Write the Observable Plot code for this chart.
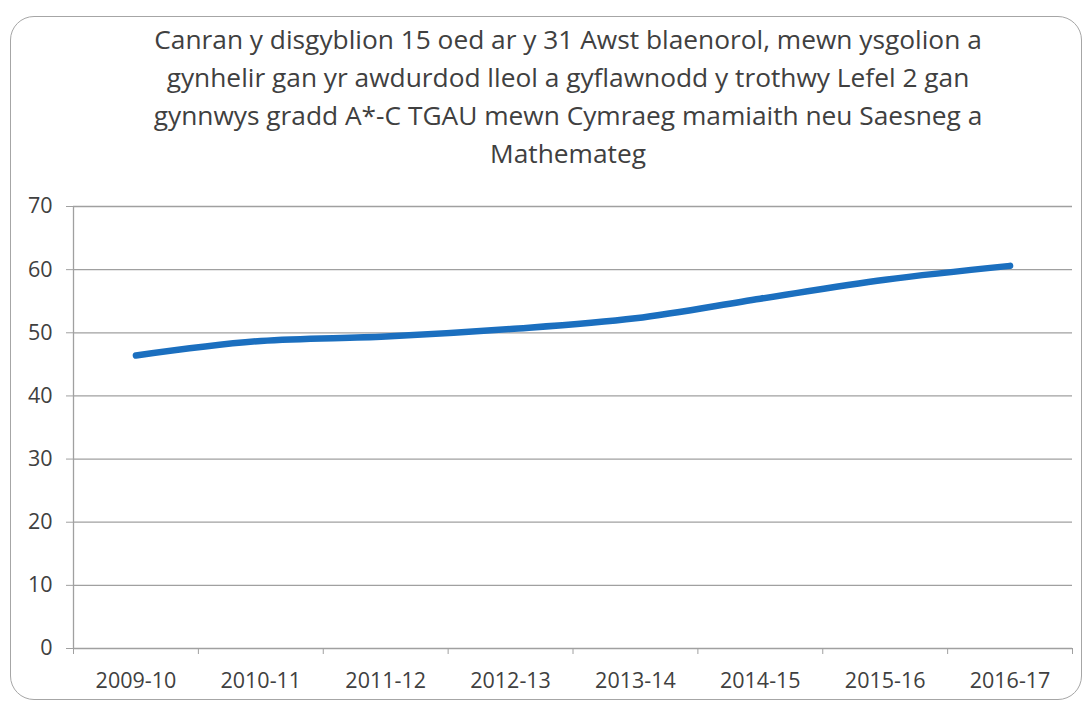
<!DOCTYPE html>
<html>
<head>
<meta charset="utf-8">
<script src="https://cdn.jsdelivr.net/npm/d3@7"></script>
<script src="https://cdn.jsdelivr.net/npm/@observablehq/plot@0.6"></script>
<style>
  html, body { margin: 0; padding: 0; background: #fff; }
  #wrap { position: relative; width: 1090px; height: 704px; overflow: hidden; font-family: "Open Sans", sans-serif; }
  #frame { position: absolute; left: 10px; top: 16px; width: 1072px; height: 684px; border: 1.5px solid #a6a6a6; border-radius: 24px; box-sizing: border-box; }
  #title { position: absolute; left: 40px; width: 1056px; top: 20px; text-align: center; font-size: 26.3px; line-height: 38px; color: #404040; }
  #chart { position: absolute; left: 0; top: 180px; }
  #chart svg text { font-size: 21.5px; }
</style>
</head>
<body>
<div id="wrap">
  <div id="frame"></div>
  <div id="title">Canran y disgyblion 15 oed ar y 31 Awst blaenorol, mewn ysgolion a<br>gynhelir gan yr awdurdod lleol a gyflawnodd y trothwy Lefel 2 gan<br>gynnwys gradd A*-C TGAU mewn Cymraeg mamiaith neu Saesneg a<br>Mathemateg</div>
  <div id="chart"></div>
</div>
<script>
const categories = ["2009-10", "2010-11", "2011-12", "2012-13", "2013-14", "2014-15", "2015-16", "2016-17"];
const values = [46.4, 48.7, 49.4, 50.6, 52.3, 55.4, 58.4, 60.6];
const yTicks = [0, 10, 20, 30, 40, 50, 60, 70];

const data = categories.map((c, i) => ({ pos: i + 0.5, cat: c, value: values[i] }));
const boundaries = d3.range(categories.length + 1);
const centers = categories.map((c, i) => i + 0.5);

const plot = Plot.plot({
  width: 1090,
  height: 524,
  marginLeft: 73,
  marginRight: 18,
  marginTop: 26,
  marginBottom: 56,
  style: { fontFamily: "Open Sans, sans-serif", color: "#404040", background: "transparent", overflow: "visible" },
  x: { domain: [0, categories.length], axis: null, label: null },
  y: { domain: [0, 70], axis: null, label: null },
  marks: [
    Plot.ruleY(yTicks.filter(v => v > 0), { stroke: "#a0a0a0", strokeWidth: 1.3 }),
    Plot.ruleY([0], { stroke: "#a0a0a0", strokeWidth: 1.3 }),
    Plot.ruleX([0], { y1: 0, y2: 70, stroke: "#a0a0a0", strokeWidth: 1.3 }),
    Plot.axisY({ ticks: yTicks, tickSize: 7, tickPadding: 14, stroke: "#a0a0a0", tickFormat: d => d, fill: "#404040", label: null }),
    Plot.axisX({ ticks: boundaries, tickSize: 6, tickFormat: () => "", stroke: "#a0a0a0", label: null }),
    Plot.axisX({ ticks: centers, tickSize: 0, tickPadding: 24, tickFormat: d => categories[Math.round(d - 0.5)], fill: "#404040", label: null }),
    Plot.line(data, { x: "pos", y: "value", stroke: "#1b6fbf", strokeWidth: 6.5, curve: "monotone-x", strokeLinecap: "round", strokeLinejoin: "round" })
  ]
});
document.getElementById("chart").appendChild(plot);
</script>
</body>
</html>
